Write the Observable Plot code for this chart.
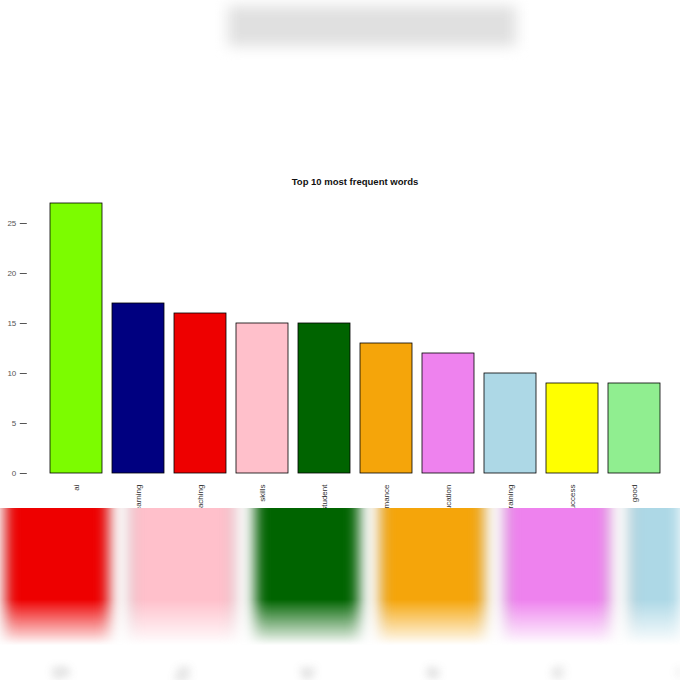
<!DOCTYPE html>
<html>
<head>
<meta charset="utf-8">
<script src="https://cdn.jsdelivr.net/npm/d3@7"></script>
<script src="https://cdn.jsdelivr.net/npm/@observablehq/plot@0.6"></script>
<style>
  html, body { margin: 0; padding: 0; background: white; }
  #wrap { position: relative; width: 680px; height: 680px; overflow: hidden; background: white; font-family: "Liberation Sans", Arial, sans-serif; }
  #main { position: absolute; left: 0; top: 0; }
  #title { position: absolute; left: 205px; top: 176px; width: 300px; text-align: center; font-weight: bold; font-size: 9.5px; color: #111; }
  #topblur { position: absolute; left: 228px; top: 6px; width: 288px; height: 40px; background: #e0e0e0; filter: blur(7px); }
  #bandsBox { position: absolute; left: 0; top: 508px; width: 680px; height: 172px; overflow: hidden; }
  #bands { position: absolute; left: 0; top: -20px; filter: blur(7px);
    -webkit-mask-image: linear-gradient(to bottom, black 0%, black 58%, transparent 82%);
    mask-image: linear-gradient(to bottom, black 0%, black 58%, transparent 82%); }
  #smudge { position: absolute; left: 0; top: -20px; filter: blur(4px); opacity: 0.75; }
</style>
</head>
<body>
<div id="wrap">
  <div id="topblur"></div>
  <div id="main"></div>
  <div id="title">Top 10 most frequent words</div>
  <div id="bandsBox"><div id="bands"></div><div id="smudge"></div></div>
</div>
<script>
const words = ["ai", "learning", "teaching", "skills", "student", "performance", "education", "training", "success", "good"];
const counts = [27, 17, 16, 15, 15, 13, 12, 10, 9, 9];
const barColors = ["#7CFC00", "#000080", "#EE0000", "#FFC0CB", "#006400", "#F5A50A", "#EE82EE", "#ADD8E6", "#FFFF00", "#90EE90"];
const yTicks = [0, 5, 10, 15, 20, 25];

const data = words.map((w, i) => ({word: w, count: counts[i]}));

const main = Plot.plot({
  width: 680,
  height: 508,
  marginLeft: 42.8,
  marginRight: 13.2,
  marginTop: 193,
  marginBottom: 35,
  style: {background: "transparent", fontFamily: "Liberation Sans, Arial, sans-serif"},
  x: {domain: words, paddingInner: 0.1667, paddingOuter: 0.0833, axis: null},
  y: {domain: [0, 28], axis: null},
  color: {domain: words, range: barColors},
  marks: [
    Plot.barY(data, {x: "word", y: "count", fill: "word", stroke: "black", strokeWidth: 0.8}),
    Plot.axisY({ticks: yTicks, tickSize: 7, tickPadding: 4, dx: -16, fontSize: 8, label: null, color: "#555"}),
    Plot.text(data, {x: "word", y: 0, text: "word", rotate: -90, textAnchor: "end", dy: 11, fontSize: 8, fill: "#333"})
  ]
});
document.getElementById("main").appendChild(main);

// magnified, blurred band strip (reflection-like artifact at the bottom)
const bands = Plot.plot({
  width: 680,
  height: 192,
  marginLeft: 0, marginRight: 0, marginTop: 0, marginBottom: 30,
  style: {background: "transparent"},
  x: {domain: words, paddingInner: 0.1667, paddingOuter: 0.0833, range: [-255.4, 994.6], axis: null},
  y: {domain: [0, 5], axis: null},
  color: {domain: words, range: barColors},
  marks: [
    Plot.barY(data, {x: "word", y: "count", fill: "word", stroke: "#777", strokeWidth: 1.5, clip: true})
  ]
});
document.getElementById("bands").appendChild(bands);

const smudge = Plot.plot({
  width: 680,
  height: 192,
  marginLeft: 0, marginRight: 0, marginTop: 0, marginBottom: 30,
  style: {background: "transparent"},
  x: {domain: words, paddingInner: 0.1667, paddingOuter: 0.0833, range: [-255.4, 994.6], axis: null},
  y: {domain: [0, 5], axis: null},
  marks: [
    Plot.text(data, {x: "word", y: 0, text: "word", rotate: -90, textAnchor: "end", dy: 16, fontSize: 20, fill: "#999"})
  ]
});
document.getElementById("smudge").appendChild(smudge);
</script>
</body>
</html>
